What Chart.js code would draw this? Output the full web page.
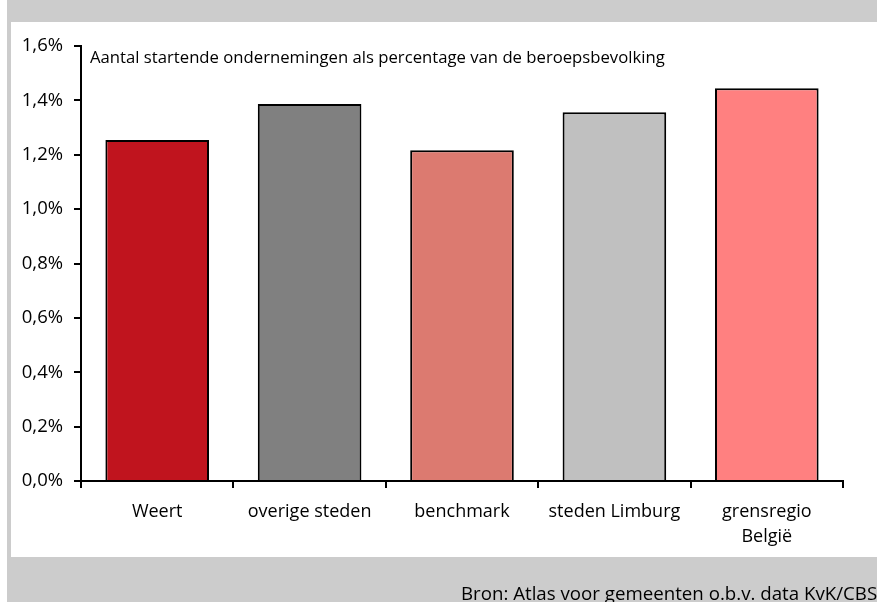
<!DOCTYPE html>
<html>
<head>
<meta charset="utf-8">
<script src="https://cdn.jsdelivr.net/npm/chart.js@4.4.1/dist/chart.umd.min.js"></script>
<style>
    html, body { margin: 0; padding: 0; background: #ffffff; }
    #wrap { position: relative; width: 877px; height: 602px; }
</style>
</head>
<body>
<div id="wrap"><canvas id="startersChart" width="877" height="602"></canvas></div>
<script>
const categories = ["Weert", "overige steden", "benchmark", "steden Limburg", ["grensregio", "België"]];
const values = [1.254, 1.387, 1.217, 1.356, 1.445];
const barColors = ["#c0141e", "#808080", "#dc7a70", "#c0c0c0", "#ff8080"];
const yTicks = [0, 0.2, 0.4, 0.6, 0.8, 1.0, 1.2, 1.4, 1.6];
const chartLabel = "Aantal startende ondernemingen als percentage van de beroepsbevolking";
const sourceLabel = "Bron: Atlas voor gemeenten o.b.v. data KvK/CBS";

const FONT = "'Open Sans', 'Noto Sans', sans-serif";

/**
 * grey frame, white panel and the two free texts
 */
const framePlugin = {
    id: "frame",
    beforeDraw(chart) {
        const ctx = chart.ctx;
        ctx.save();
        ctx.fillStyle = "#ffffff";
        ctx.fillRect(0, 0, 877, 602);
        ctx.fillStyle = "#cccccc";
        ctx.fillRect(7, 0, 870, 602);
        ctx.fillStyle = "#ffffff";
        ctx.fillRect(11, 22, 866, 535);
        ctx.restore();
    },
    afterDraw(chart) {
        const ctx = chart.ctx;
        ctx.save();
        ctx.fillStyle = "#000000";
        ctx.textAlign = "left";
        ctx.textBaseline = "alphabetic";
        ctx.font = "16.7px " + FONT;
        ctx.fillText(chartLabel, 90, 63);
        ctx.font = "18.7px " + FONT;
        ctx.fillText(sourceLabel, 461, 600);
        ctx.restore();
    },
};

function _renderChart() {
    const data = {
        labels: categories,
        datasets: [
            {
                data: values,
                backgroundColor: barColors,
                borderColor: "#000000",
                borderWidth: 2,
                categoryPercentage: 0.68,
                barPercentage: 1.0,
            },
        ],
    };

    const config = {
        type: "bar",
        data: data,
        options: {
            responsive: false,
            animation: false,
            layout: {
                padding: { top: 46, right: 34, bottom: 0, left: 0 },
            },
            plugins: {
                legend: { display: false },
                tooltip: { enabled: false },
            },
            scales: {
                x: {
                    offset: true,
                    grid: {
                        offset: true,
                        drawOnChartArea: false,
                        drawTicks: true,
                        tickLength: 7,
                        color: "#000000",
                        lineWidth: 2,
                    },
                    border: { color: "#000000", width: 2 },
                    ticks: {
                        color: "#000000",
                        padding: 12,
                        font: { family: FONT, size: 18, lineHeight: 1.35 },
                        maxRotation: 0,
                        autoSkip: false,
                    },
                    afterFit: (scale) => {
                        scale.height = 121;
                    },
                },
                y: {
                    min: 0,
                    max: 1.6,
                    afterBuildTicks: (scale) => {
                        scale.ticks = yTicks.map((v) => ({ value: v }));
                    },
                    grid: {
                        drawOnChartArea: false,
                        drawTicks: true,
                        tickLength: 7,
                        color: "#000000",
                        lineWidth: 2,
                    },
                    border: { color: "#000000", width: 2 },
                    ticks: {
                        color: "#000000",
                        padding: 11,
                        font: { family: FONT, size: 18.5 },
                        callback: (v) => v.toFixed(1).replace(".", ",") + "%",
                    },
                    afterFit: (scale) => {
                        scale.width = 81;
                    },
                },
            },
        },
        plugins: [framePlugin],
    };

    new Chart(document.getElementById("startersChart"), config);
}

_renderChart();
</script>
</body>
</html>
